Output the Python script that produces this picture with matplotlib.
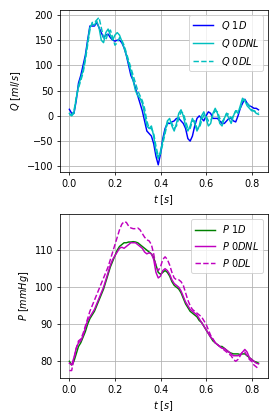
import numpy as np
import matplotlib.pyplot as plt

t = np.round(np.arange(0, 0.835, 0.01), 2)

q_1d = [13, 5, 5, 30, 65, 80, 100, 120, 150, 178,
        178, 178, 185, 175, 165, 155, 160, 162, 155, 150,
        148, 150, 150, 145, 135, 120, 100, 80, 70, 55,
        40, 25, 10, -10, -30, -35, -40, -55, -80, -97,
        -75, -45, -25, -15, -15, -12, -10, -5, -5, -10,
        -15, -25, -45, -50, -40, -20, -5, 0, -5, -10,
        0, 8, 5, -5, -5, -5, -10, -15, -15, -10,
        -5, -5, -10, -12, 0, 15, 25, 33, 25, 20,
        18, 15, 15, 12]
q_0dnl = [5, 0, 5, 35, 60, 75, 90, 115, 145, 175,
          182, 180, 188, 175, 150, 145, 165, 172, 160, 150,
          160, 165, 160, 148, 135, 120, 105, 88, 70, 50,
          40, 35, 25, 5, -20, -25, -20, -40, -70, -85,
          -70, -50, -30, -10, -5, -20, -30, -15, 5, 12,
          0, -20, -30, -20, -5, -15, -30, -20, 0, 8,
          -5, -20, -15, 5, 15, 5, -15, -20, -5, 5,
          -5, -15, 0, 10, 5, 20, 35, 30, 20, 15,
          10, 10, 5, 3]
q_0dl = [2, 2, 10, 35, 55, 70, 85, 110, 140, 170,
         185, 185, 190, 195, 175, 155, 150, 165, 170, 155,
         140, 145, 155, 150, 140, 125, 110, 95, 80, 65,
         50, 40, 30, 15, -10, -25, -25, -35, -60, -80,
         -75, -55, -35, -15, -10, -15, -25, -20, -5, 8,
         5, -10, -25, -25, -10, -10, -25, -25, -10, 2,
         0, -10, -10, 2, 10, 8, -5, -12, -5, 5,
         3, -5, 0, 10, 10, 15, 30, 32, 25, 20,
         12, 10, 8, 5]

p_1d = [80, 79, 80, 82, 84, 85, 86.5, 88, 90, 91.5,
        92.5, 93.5, 95, 96.5, 98, 99.5, 101.5, 103.5, 105.5, 107,
        108.5, 110, 111, 111.5, 112, 112, 112.2, 112.2, 112.3, 112.2,
        112, 111.5, 111, 110.5, 110, 109.5, 109, 108, 106, 104,
        103.5, 104, 104.5, 104, 103, 101.5, 100.5, 100, 99.5, 98.5,
        97, 95.5, 94.5, 93.5, 93, 92.5, 92, 91, 90.5, 89.5,
        88.5, 87.5, 86.5, 85.5, 85, 84.5, 84, 84, 83.5, 83,
        82.5, 82.2, 82, 82, 82, 81.8, 82, 82, 81.5, 81,
        80.5, 80, 79.8, 79.5]
p_0dnl = [79.5, 79, 81, 83.5, 85, 85.5, 87, 89, 91, 92,
          93, 94, 95.5, 97, 98.5, 100, 102, 104, 106, 107.5,
          108.5, 109.5, 110.5, 110.8, 110.5, 111, 111.5, 112, 112, 112,
          111.5, 111, 110.5, 109.5, 109, 109.3, 109, 107.5, 104, 102.5,
          103, 104.5, 105, 104.5, 103.5, 102, 101, 100.5, 100, 99,
          97.5, 96, 95, 94, 93.5, 93, 92.5, 91.5, 90.5, 89.5,
          88.5, 87.5, 86.5, 86, 85, 84.5, 84, 83.5, 83.5, 83,
          82.5, 82, 81.5, 81.5, 81.5, 81.8, 82.5, 83.2, 82.5, 81,
          80.5, 80, 79.5, 79.3]
p_0dl = [77.5, 77.5, 80.5, 83.5, 85.5, 86, 87.5, 89.5, 91.5, 93.5,
         95, 96.5, 98, 99.5, 101, 102.5, 104, 105.5, 107.5, 109.5,
         111.5, 113.5, 115.5, 117, 117.7, 117.5, 116.5, 116, 115.8, 115.8,
         116, 115.5, 114.5, 113.5, 112.8, 112.5, 111.5, 109, 105.5, 104.5,
         105.5, 107.5, 108.2, 107.5, 106, 104, 102.5, 102, 102, 101.5,
         100.5, 98.5, 96.5, 95, 94, 93.5, 93, 92.5, 92, 91,
         90, 88.5, 87, 86, 85, 84.5, 84, 83.5, 83, 82.5,
         82, 81.5, 80.5, 80, 80.5, 81.5, 82.5, 82.5, 81.5, 80.5,
         80, 79, 78.5, 78]

# drawn at 4x6 in, saved at 70 dpi -> 280x420 px
fig = plt.figure(figsize=(4, 6), dpi=70)
ax1 = fig.add_axes([0.214, 0.590, 0.743, 0.386])
ax2 = fig.add_axes([0.214, 0.100, 0.743, 0.390])

ax1.plot(t, q_1d, 'b', label='$Q\\ 1D$')
ax1.plot(t, q_0dnl, 'c', label='$Q\\ 0DNL$')
ax1.plot(t, q_0dl, 'c--', label='$Q\\ 0DL$')
ax1.set_xlabel('$t\\ [s]$')
ax1.set_ylabel('$Q\\ [ml/s]$')
ax1.set_yticks([-100, -50, 0, 50, 100, 150, 200])
ax1.grid(True)
ax1.legend(loc='upper right')

ax2.plot(t, p_1d, 'g', label='$P\\ 1D$')
ax2.plot(t, p_0dnl, 'm', label='$P\\ 0DNL$')
ax2.plot(t, p_0dl, 'm--', label='$P\\ 0DL$')
ax2.set_xlabel('$t\\ [s]$')
ax2.set_ylabel('$P\\ [mmHg]$')
ax2.set_yticks([80, 90, 100, 110])
ax2.grid(True)
ax2.legend(loc='upper right')

fig.savefig('out.png', dpi=70)
